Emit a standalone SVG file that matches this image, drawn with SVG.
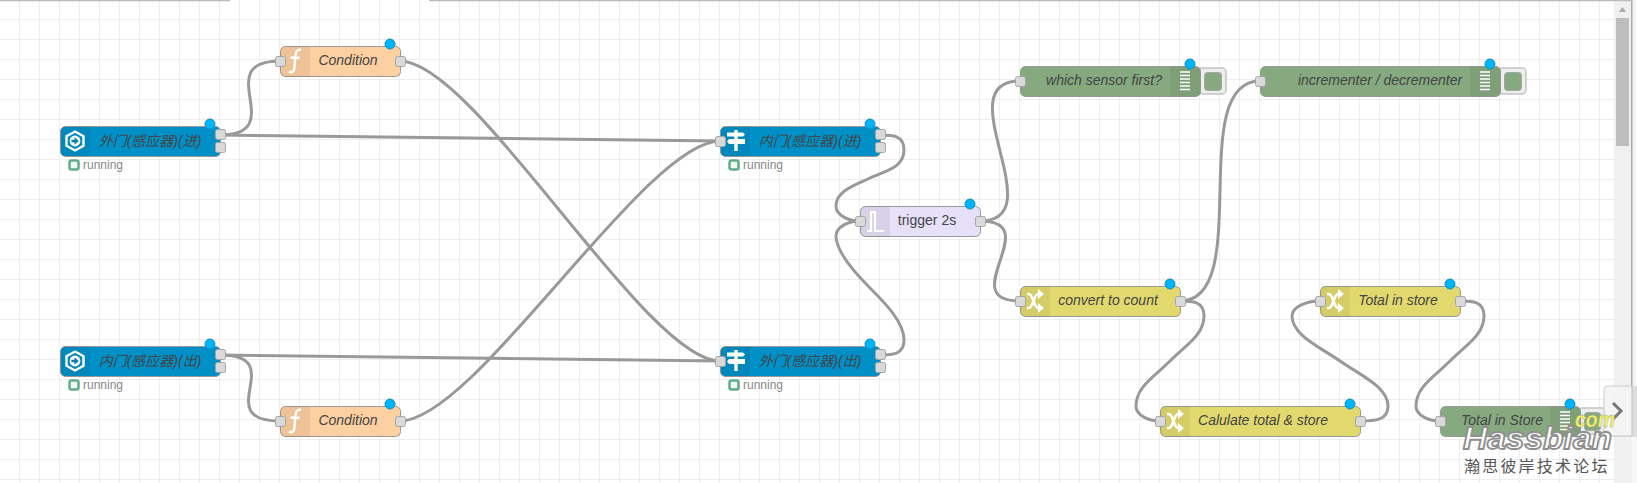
<svg xmlns="http://www.w3.org/2000/svg" width="1637" height="483" viewBox="0 0 1637 483">
  <style>
    text { font-family: "Liberation Sans", "Noto Sans CJK SC", sans-serif; }
    .wire { fill: none; stroke: #999; stroke-width: 3; }
    .body { stroke: #999; stroke-width: 1; }
    .inject { fill: #0090c8; }
    .fn { fill: #fdd0a2; }
    .trig { fill: #e6e0f8; }
    .chg { fill: #e2d96e; }
    .dbg { fill: #87a980; }
    .shade { fill: #000; fill-opacity: .06; }
    .port { fill: #d9d9d9; stroke: #a5a5a5; stroke-width: 1; }
    .dot { fill: #00b4f8; stroke: #0e8fc4; stroke-width: 1; }
    .label { font-size: 14px; font-style: italic; fill: #444; text-anchor: middle; }
    .plain { font-size: 14px; fill: #444; text-anchor: middle; }
    .status { font-size: 12px; fill: #888; }
    .led { fill: #f2f7f4; stroke: #5fae8c; stroke-width: 2.5; }
    .ico { fill: none; stroke: #fff; stroke-linecap: butt; }
    .btn { fill: #eee; stroke: #c4c4c4; stroke-width: 1.5; }
    .btni { fill: #87a980; stroke: #a5a5a5; stroke-width: 1; }
    .grid { stroke: #eee; stroke-width: 1; }
  </style>
  <defs>
    <pattern id="cells" width="20" height="20" patternUnits="userSpaceOnUse">
      <path class="grid" d="M19.5 0V20M0 19.5H20" fill="none"/>
    </pattern>
    <g id="icoInject">
      <path class="ico" stroke-width="2.4" d="M0 -9.5L8.5 -4.8V4.8L0 9.5L-8.500 4.8V-4.800Z"/>
      <circle r="5.400" fill="#fff"/>
      <path d="M-3.600 -1.200H-0.500V-3.800L3.800 0L-0.500 3.800V1.200H-3.600Z" fill="#0a7fb0"/>
    </g>
    <g id="icoLink" fill="#fff">
      <path d="M-9 -8.500H7L9 -6.500L7 -4.500H-9Z"/>
      <path d="M-7 -2H9V3H-7L-9 0.500Z"/>
      <rect x="-1.700" y="-11" width="3.400" height="21"/>
    </g>
    <path id="icoFn" class="ico" stroke-width="2.400" d="M6 -11C2 -12 0.600 -9 0.400 -5L-0.600 7C-0.800 11 -3 12 -6 10.600M-4.500 -3.200H4.500"/>
    <g id="icoShuffle" class="ico" stroke-width="2.600">
      <path d="M-8 -7H-6C-2 -7 -1 7 3 7H5M-8 7H-6C-2 7 -1 -7 3 -7H5"/>
      <path fill="#fff" stroke="none" d="M3 -12L9 -7L3 -2ZM3 2L9 7L3 12Z"/>
    </g>
    <path id="icoPulse" class="ico" stroke-width="2.200" d="M-8 10H-4V-9H0V10H9"/>
    <path id="icoList" class="ico" stroke-width="1.600" d="M-5 -9H5M-5 -5.500H5M-5 -2H5M-5 1.500H5M-5 5H5M-5 8.500H5"/>
  </defs>

  <rect width="1637" height="483" fill="#fff"/>
  <rect width="1614" height="483" fill="url(#cells)"/>

  <!-- Sidebar scrollbar and window edges -->
  <rect x="1614" y="0" width="18" height="483" fill="#f0f0f0"/>
  <rect x="1632" y="0" width="5" height="483" fill="#f6f6f6"/>
  <rect x="1631" y="0" width="1.500" height="436" fill="#aaa"/>
  <rect x="1633" y="386" width="4" height="50" fill="#ddd"/>
  <rect x="1616" y="18" width="13" height="128" fill="#bdbdbd"/>
  <path d="M1619 12L1622.500 7L1626 12Z" fill="#aaa"/>
  <path d="M1614 436.500H1637" stroke="#ddd"/>
  <path d="M0 .5H230M429 .5H1632" stroke="#bbb" stroke-width="1.500"/>

  <g id="connectors">
    <path class="wire" d="M220 135C291 135 209 61 280 61"/>
    <path class="wire" d="M220 135C295 135 645 141 720 141"/>
    <path class="wire" d="M400 61C475 61 645 361 720 361"/>
    <path class="wire" d="M220 355C291 355 209 421 280 421"/>
    <path class="wire" d="M220 355C295 355 645 361 720 361"/>
    <path class="wire" d="M400 421C475 421 645 141 720 141"/>
    <path class="wire" d="M880 135C892 135 904 135 904 150C904 168 885 171 870 178C855 185 836 191 836 206C836 215 848 221 860 221"/>
    <path class="wire" d="M880 355C892 355 904 355 904 340C904 322 885 303 870 288C855 273 836 251 836 236C836 227 848 221 860 221"/>
    <path class="wire" d="M980 221C1055 221 945 81 1020 81"/>
    <path class="wire" d="M980 221C1047 221 953 301 1020 301"/>
    <path class="wire" d="M1180 301C1255 301 1185 81 1260 81"/>
    <path class="wire" d="M1180 301C1192 301 1204 301 1204 316C1204 335 1186 345 1170 361C1154 377 1136 387 1136 406C1136 415 1148 421 1160 421"/>
    <path class="wire" d="M1360 421C1374 421 1388 421 1388 406C1388 387 1360 375 1340 361C1320 347 1292 335 1292 316C1292 307 1306 301 1320 301"/>
    <path class="wire" d="M1460 301C1472 301 1484 301 1484 316C1484 335 1466 345 1450 361C1434 377 1416 387 1416 406C1416 415 1428 421 1440 421"/>
  </g>

  <g id="door-outer-in">
    <rect class="body inject" x="60.500" y="126.500" width="160" height="30" rx="5"/>
    <path class="shade" d="M65.500 126.500H90V156.500H65.500A5 5 0 0 1 60.500 151.500V131.500A5 5 0 0 1 65.500 126.500Z"/>
    <use href="#icoInject" x="75" y="141"/>
    <text class="label" x="150" y="146">外门(感应器)(进)</text>
    <rect class="port" x="215.500" y="129.500" width="10" height="10" rx="2"/>
    <rect class="port" x="215.500" y="142.500" width="10" height="10" rx="2"/>
    <circle class="dot" cx="210" cy="124" r="5"/>
    <rect class="led" x="69.500" y="160.500" width="9" height="9" rx="2"/>
    <text class="status" x="83" y="169">running</text>
  </g>

  <g id="door-inner-out">
    <rect class="body inject" x="60.500" y="346.500" width="160" height="30" rx="5"/>
    <path class="shade" d="M65.500 346.500H90V376.500H65.500A5 5 0 0 1 60.500 371.500V351.500A5 5 0 0 1 65.500 346.500Z"/>
    <use href="#icoInject" x="75" y="361"/>
    <text class="label" x="150" y="366">内门(感应器)(出)</text>
    <rect class="port" x="215.500" y="349.500" width="10" height="10" rx="2"/>
    <rect class="port" x="215.500" y="362.500" width="10" height="10" rx="2"/>
    <circle class="dot" cx="210" cy="344" r="5"/>
    <rect class="led" x="69.500" y="380.500" width="9" height="9" rx="2"/>
    <text class="status" x="83" y="389">running</text>
  </g>

  <g id="condition-top">
    <rect class="body fn" x="280.500" y="46.500" width="120" height="30" rx="5"/>
    <path class="shade" d="M285.500 46.500H310V76.500H285.500A5 5 0 0 1 280.500 71.500V51.500A5 5 0 0 1 285.500 46.500Z"/>
    <use href="#icoFn" x="295" y="61"/>
    <text class="label" x="348" y="65">Condition</text>
    <rect class="port" x="275.500" y="56.500" width="10" height="10" rx="2"/>
    <rect class="port" x="395.500" y="56.500" width="10" height="10" rx="2"/>
    <circle class="dot" cx="390" cy="44" r="5"/>
  </g>

  <g id="condition-bottom">
    <rect class="body fn" x="280.500" y="406.500" width="120" height="30" rx="5"/>
    <path class="shade" d="M285.500 406.500H310V436.500H285.500A5 5 0 0 1 280.500 431.500V411.500A5 5 0 0 1 285.500 406.500Z"/>
    <use href="#icoFn" x="295" y="421"/>
    <text class="label" x="348" y="425">Condition</text>
    <rect class="port" x="275.500" y="416.500" width="10" height="10" rx="2"/>
    <rect class="port" x="395.500" y="416.500" width="10" height="10" rx="2"/>
    <circle class="dot" cx="390" cy="404" r="5"/>
  </g>

  <g id="door-inner-in">
    <rect class="body inject" x="720.500" y="126.500" width="160" height="30" rx="5"/>
    <path class="shade" d="M725.500 126.500H750V156.500H725.500A5 5 0 0 1 720.500 151.500V131.500A5 5 0 0 1 725.500 126.500Z"/>
    <use href="#icoLink" x="736" y="141"/>
    <text class="label" x="810" y="146">内门(感应器)(进)</text>
    <rect class="port" x="715.500" y="136.500" width="10" height="10" rx="2"/>
    <rect class="port" x="875.500" y="129.500" width="10" height="10" rx="2"/>
    <rect class="port" x="875.500" y="142.500" width="10" height="10" rx="2"/>
    <circle class="dot" cx="870" cy="124" r="5"/>
    <rect class="led" x="729.500" y="160.500" width="9" height="9" rx="2"/>
    <text class="status" x="743" y="169">running</text>
  </g>

  <g id="door-outer-out">
    <rect class="body inject" x="720.500" y="346.500" width="160" height="30" rx="5"/>
    <path class="shade" d="M725.500 346.500H750V376.500H725.500A5 5 0 0 1 720.500 371.500V351.500A5 5 0 0 1 725.500 346.500Z"/>
    <use href="#icoLink" x="736" y="361"/>
    <text class="label" x="810" y="366">外门(感应器)(出)</text>
    <rect class="port" x="715.500" y="356.500" width="10" height="10" rx="2"/>
    <rect class="port" x="875.500" y="349.500" width="10" height="10" rx="2"/>
    <rect class="port" x="875.500" y="362.500" width="10" height="10" rx="2"/>
    <circle class="dot" cx="870" cy="344" r="5"/>
    <rect class="led" x="729.500" y="380.500" width="9" height="9" rx="2"/>
    <text class="status" x="743" y="389">running</text>
  </g>

  <g id="trigger-2s">
    <rect class="body trig" x="860.500" y="206.500" width="120" height="30" rx="5"/>
    <path class="shade" d="M865.500 206.500H890V236.500H865.500A5 5 0 0 1 860.500 231.500V211.500A5 5 0 0 1 865.500 206.500Z"/>
    <use href="#icoPulse" x="875" y="221"/>
    <text class="plain" x="927" y="225">trigger 2s</text>
    <rect class="port" x="855.500" y="216.500" width="10" height="10" rx="2"/>
    <rect class="port" x="975.500" y="216.500" width="10" height="10" rx="2"/>
    <circle class="dot" cx="970" cy="204" r="5"/>
  </g>

  <g id="which-sensor">
    <rect class="btn" x="1198" y="68" width="28" height="26" rx="4"/>
    <rect class="btni" x="1204.500" y="72.500" width="17" height="18" rx="3"/>
    <rect class="body dbg" x="1020.500" y="66.500" width="180" height="30" rx="5"/>
    <path class="shade" d="M1170 66.500H1195.500A5 5 0 0 1 1200.500 71.500V91.500A5 5 0 0 1 1195.500 96.500H1170Z"/>
    <use href="#icoList" x="1185" y="81"/>
    <text class="label" x="1104" y="85">which sensor first?</text>
    <rect class="port" x="1015.500" y="76.500" width="10" height="10" rx="2"/>
    <circle class="dot" cx="1190" cy="64" r="5"/>
  </g>

  <g id="incrementer">
    <rect class="btn" x="1498" y="68" width="28" height="26" rx="4"/>
    <rect class="btni" x="1504.500" y="72.500" width="17" height="18" rx="3"/>
    <rect class="body dbg" x="1260.500" y="66.500" width="240" height="30" rx="5"/>
    <path class="shade" d="M1470 66.500H1495.500A5 5 0 0 1 1500.500 71.500V91.500A5 5 0 0 1 1495.500 96.500H1470Z"/>
    <use href="#icoList" x="1485" y="81"/>
    <text class="label" x="1380" y="85">incrementer / decrementer</text>
    <rect class="port" x="1255.500" y="76.500" width="10" height="10" rx="2"/>
    <circle class="dot" cx="1490" cy="64" r="5"/>
  </g>

  <g id="convert-to-count">
    <rect class="body chg" x="1020.500" y="286.500" width="160" height="30" rx="5"/>
    <path class="shade" d="M1025.500 286.500H1050V316.500H1025.500A5 5 0 0 1 1020.500 311.500V291.500A5 5 0 0 1 1025.500 286.500Z"/>
    <use href="#icoShuffle" x="1035" y="301"/>
    <text class="label" x="1108" y="305">convert to count</text>
    <rect class="port" x="1015.500" y="296.500" width="10" height="10" rx="2"/>
    <rect class="port" x="1175.500" y="296.500" width="10" height="10" rx="2"/>
    <circle class="dot" cx="1170" cy="284" r="5"/>
  </g>

  <g id="total-in-store-change">
    <rect class="body chg" x="1320.500" y="286.500" width="140" height="30" rx="5"/>
    <path class="shade" d="M1325.500 286.500H1350V316.500H1325.500A5 5 0 0 1 1320.500 311.500V291.500A5 5 0 0 1 1325.500 286.500Z"/>
    <use href="#icoShuffle" x="1335" y="301"/>
    <text class="label" x="1398" y="305">Total in store</text>
    <rect class="port" x="1315.500" y="296.500" width="10" height="10" rx="2"/>
    <rect class="port" x="1455.500" y="296.500" width="10" height="10" rx="2"/>
    <circle class="dot" cx="1450" cy="284" r="5"/>
  </g>

  <g id="calculate-total">
    <rect class="body chg" x="1160.500" y="406.500" width="200" height="30" rx="5"/>
    <path class="shade" d="M1165.500 406.500H1190V436.500H1165.500A5 5 0 0 1 1160.500 431.500V411.500A5 5 0 0 1 1165.500 406.500Z"/>
    <use href="#icoShuffle" x="1175" y="421"/>
    <text class="label" x="1263" y="425">Calulate total &amp; store</text>
    <rect class="port" x="1155.500" y="416.500" width="10" height="10" rx="2"/>
    <rect class="port" x="1355.500" y="416.500" width="10" height="10" rx="2"/>
    <circle class="dot" cx="1350" cy="404" r="5"/>
  </g>

  <g id="total-in-store-debug">
    <rect class="btn" x="1578" y="408" width="28" height="26" rx="4"/>
    <rect class="btni" x="1584.500" y="412.500" width="16" height="18" rx="3"/>
    <rect class="body dbg" x="1440.500" y="406.500" width="140" height="30" rx="5"/>
    <path class="shade" d="M1550 406.500H1575.500A5 5 0 0 1 1580.500 411.500V431.500A5 5 0 0 1 1575.500 436.500H1550Z"/>
    <use href="#icoList" x="1565" y="421"/>
    <text class="label" x="1502" y="425">Total in Store</text>
    <rect class="port" x="1435.500" y="416.500" width="10" height="10" rx="2"/>
    <circle class="dot" cx="1570" cy="404" r="5"/>
  </g>

  <g id="sidebar-tab">
    <path d="M1632 386H1608A4 4 0 0 0 1604 390V436H1632Z" fill="#f3f3f3" fill-opacity=".85" stroke="#ccc"/>
    <path d="M1613 403L1621 411L1613 419" fill="none" stroke="#777" stroke-width="3"/>
  </g>

  <g id="watermark">
    <text x="1463" y="449" font-size="32" font-style="italic" font-weight="bold" fill="#fff" stroke="#8f8f8f" stroke-width="1.800" textLength="149" lengthAdjust="spacingAndGlyphs">Hassbian</text>
    <text x="1575" y="427" font-size="22" font-style="italic" font-weight="bold" fill="#f0f060" stroke="#999" stroke-width=".3" textLength="40" lengthAdjust="spacingAndGlyphs">com</text>
    <text x="1464" y="472" font-size="16" fill="#555" letter-spacing="2.200">瀚思彼岸技术论坛</text>
  </g>
</svg>
